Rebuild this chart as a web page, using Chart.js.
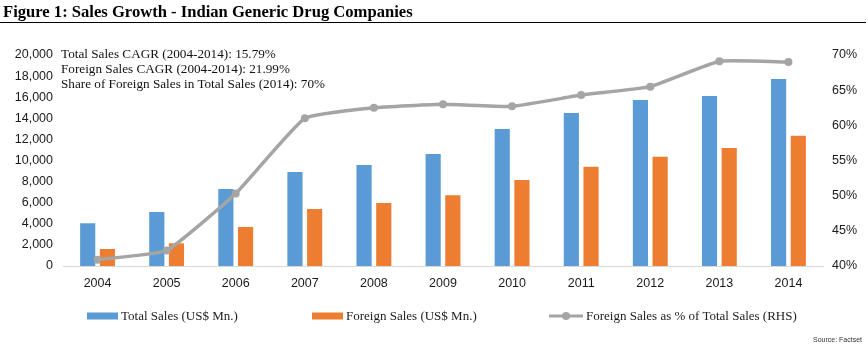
<!DOCTYPE html>
<html>
<head>
<meta charset="utf-8">
<script src="https://cdn.jsdelivr.net/npm/chart.js@4.4.1/dist/chart.umd.min.js"></script>
<style>
  html, body { margin: 0; padding: 0; background: #fff; }
  #wrap { position: relative; width: 868px; height: 346px; overflow: hidden; }
  #chartBox { position: absolute; left: 0; top: 0; width: 868px; height: 346px; }
  .title { position: absolute; left: 3px; top: 2px; font: bold 16.6px "Liberation Serif", serif; color: #000; white-space: nowrap; }
  .rule { position: absolute; left: 0; top: 22px; width: 866px; height: 0; border-top: 1.5px solid #000; }
  .note { position: absolute; left: 61px; top: 47px; font: 13.2px/14.8px "Liberation Serif", serif; color: #111; white-space: nowrap; }
  .legend { position: absolute; top: 309px; left: 0; font: 13px "Liberation Serif", serif; color: #222; white-space: nowrap; }
  .item { position: absolute; top: 0; height: 14px; line-height: 14px; }
  .item canvas { vertical-align: middle; margin-right: 3px; position: relative; top: -1px; }
  .source { position: absolute; right: 6px; top: 336px; font: 7px "Liberation Sans", sans-serif; color: #333; }
</style>
</head>
<body>
<div id="wrap">
  <div id="chartBox"><canvas id="chart"></canvas></div>
  <div class="title">Figure 1: Sales Growth - Indian Generic Drug Companies</div>
  <div class="rule"></div>
  <div class="note">Total Sales CAGR (2004-2014): 15.79%<br>Foreign Sales CAGR (2004-2014): 21.99%<br>Share of Foreign Sales in Total Sales (2014): 70%</div>
  <div class="legend" id="legend"></div>
  <div class="source">Source: Factset</div>
</div>
<script>
const years = ['2004', '2005', '2006', '2007', '2008', '2009', '2010', '2011', '2012', '2013', '2014'];
const totalSales = [4050, 5120, 7300, 8910, 9570, 10620, 12990, 14500, 15730, 16110, 17720];
const foreignSales = [1610, 2150, 3700, 5400, 5970, 6700, 8150, 9400, 10360, 11180, 12350];
const foreignShare = [40.9, 42.2, 50.3, 61.0, 62.5, 63.0, 62.7, 64.3, 65.5, 69.1, 69.0];
const seriesNames = ['Total Sales (US$ Mn.)', 'Foreign Sales (US$ Mn.)', 'Foreign Sales as % of Total Sales (RHS)'];

const BLUE = '#5b9bd5';
const ORANGE = '#ed7d31';
const GRAY = '#a5a5a5';
const tickFont = { family: '"Liberation Sans", sans-serif', size: 12.5 };

new Chart(document.getElementById('chart'), {
  data: {
    labels: years,
    datasets: [
      {
        type: 'line', label: seriesNames[2], data: foreignShare, yAxisID: 'y1', order: 0,
        borderColor: GRAY, backgroundColor: GRAY, borderWidth: 3.5, tension: 0.12,
        pointRadius: 4, pointHoverRadius: 4, pointBackgroundColor: GRAY, pointBorderWidth: 0
      },
      {
        type: 'bar', label: seriesNames[0], data: totalSales, yAxisID: 'y', order: 1,
        backgroundColor: BLUE, categoryPercentage: 0.57, barPercentage: 0.77
      },
      {
        type: 'bar', label: seriesNames[1], data: foreignSales, yAxisID: 'y', order: 1,
        backgroundColor: ORANGE, categoryPercentage: 0.57, barPercentage: 0.77
      }
    ]
  },
  options: {
    responsive: true,
    maintainAspectRatio: false,
    animation: false,
    layout: { padding: { top: 55, bottom: 56, left: 0, right: 0 } },
    plugins: { legend: { display: false }, title: { display: false }, tooltip: { enabled: false } },
    scales: {
      x: {
        grid: { display: false, drawTicks: false },
        border: { display: true, color: '#d9d9d9', width: 1 },
        ticks: { color: '#1a1a1a', font: tickFont, padding: 10, maxRotation: 0 },
        afterFit: s => { s.height = 24; }
      },
      y: {
        position: 'left', min: 0, max: 20000,
        grid: { display: false, drawTicks: false },
        border: { display: false },
        ticks: { stepSize: 2000, color: '#1a1a1a', font: tickFont, padding: 10,
          callback: v => v.toLocaleString('en-US') },
        afterFit: s => { s.width = 63; }
      },
      y1: {
        position: 'right', min: 40, max: 70,
        grid: { display: false, drawTicks: false },
        border: { display: false },
        ticks: { stepSize: 5, color: '#1a1a1a', font: tickFont, padding: 9, callback: v => v + '%' },
        afterFit: s => { s.width = 45; }
      }
    }
  }
});

// legend drawn in HTML: swatch + label at measured positions
function swatch(kind, color) {
  const c = document.createElement('canvas');
  c.width = kind === 'line' ? 34 : 31;
  c.height = 10;
  const g = c.getContext('2d');
  if (kind === 'line') {
    g.strokeStyle = color; g.lineWidth = 3;
    g.beginPath(); g.moveTo(0, 5); g.lineTo(34, 5); g.stroke();
    g.fillStyle = color; g.beginPath(); g.arc(17, 5, 4, 0, Math.PI * 2); g.fill();
  } else {
    g.fillStyle = color; g.fillRect(0, 1.5, 31, 7);
  }
  return c;
}
const legendItems = [
  { x: 87, kind: 'bar', color: BLUE, text: seriesNames[0] },
  { x: 312, kind: 'bar', color: ORANGE, text: seriesNames[1] },
  { x: 549, kind: 'line', color: GRAY, text: seriesNames[2] }
];
const legendEl = document.getElementById('legend');
legendItems.forEach(it => {
  const d = document.createElement('div');
  d.className = 'item';
  d.style.left = it.x + 'px';
  d.appendChild(swatch(it.kind, it.color));
  d.appendChild(document.createTextNode(it.text));
  legendEl.appendChild(d);
});
</script>
</body>
</html>
